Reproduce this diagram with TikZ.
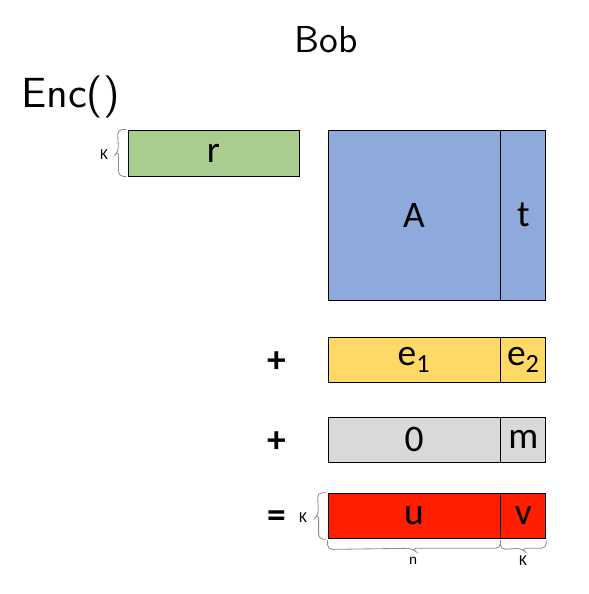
\documentclass[tikz,border=0pt]{standalone}
\usepackage{fontspec}
\setmainfont{Carlito}
\newfontfamily\titlefont{lmsans10-regular.otf}
\usetikzlibrary{positioning, calc}
\definecolor{rGreen}{HTML}{A9CD8F}
\definecolor{aBlue}{HTML}{8EA9DB}
\definecolor{eYellow}{HTML}{FFD966}
\definecolor{zGrey}{HTML}{D9D9D9}
\definecolor{uRed}{HTML}{FF1E00}

\tikzset{
  cell/.style={draw, line width=0.7pt, inner sep=0pt, minimum height=1.37cm,
    font=\fontsize{32}{32}\selectfont},
  widecell/.style={cell, minimum width=5.16cm},
  thincell/.style={cell, minimum width=1.35cm},
  curl/.style={draw=black!45, line width=0.7pt, rounded corners=4pt},
  small/.style={font=\fontsize{13}{13}\selectfont, inner sep=0pt},
  sign/.style={font=\bfseries\fontsize{32}{32}\selectfont}
}

\begin{document}
\begin{tikzpicture}[x=0.03cm, y=-0.03cm]
    \useasboundingbox (0,0) rectangle (588,594);
    % titles
    \node[font=\titlefont\fontsize{32}{32}\selectfont] (bob) at (326,40) {Bob};
    \node[font=\titlefont\fontsize{36}{36}\selectfont, anchor=west, inner sep=0pt] (enc) at (21,97) {Enc()};
    % r vector
    \node[widecell, fill=rGreen, minimum width=5.13cm, minimum height=1.38cm] (r) at (213.5,153) {r};
    \draw[curl] ([xshift=-1pt]r.north west) -- ++(-9,0) -- ($(r.west)+(-9,-1.5)$)
      [sharp corners] -- ++(-1.5,1.5) -- ++(1.5,1.5) [rounded corners=4pt]
      -- ($(r.south west)+(-9,0)$) -- ([xshift=-1pt]r.south west);
    \node[small] (rk) at (104,155) {K};
    % public key
    \node[widecell, fill=aBlue, minimum height=5.1cm] (A) at (414,215) {A};
    \node[thincell, fill=aBlue, minimum height=5.1cm, right=0pt of A] (t) {t};
    % error
    \node[widecell, fill=eYellow, minimum height=1.35cm] (e1) at (414,359.5) {e\textsubscript{1}};
    \node[thincell, fill=eYellow, minimum height=1.35cm, right=0pt of e1] (e2) {e\textsubscript{2}};
    % message
    \node[widecell, fill=zGrey, minimum height=1.35cm] (zero) at (414,439.5) {0};
    \node[thincell, fill=zGrey, minimum height=1.35cm, right=0pt of zero] (m) {m};
    % ciphertext
    \node[widecell, fill=uRed] (u) at (414,516) {u};
    \node[thincell, fill=uRed, right=0pt of u] (v) {v};
    \draw[curl] ([xshift=-1pt]u.north west) -- ++(-9,0) -- ($(u.west)+(-9,-1.5)$)
      [sharp corners] -- ++(-1.5,1.5) -- ++(1.5,1.5) [rounded corners=4pt]
      -- ($(u.south west)+(-9,0)$) -- ([xshift=-1pt]u.south west);
    \node[small] (uk) at (303,518) {K};
    \draw[curl] ([yshift=-1pt]u.south west) -- ++(0,9) -- ($(u.south)+(-1.5,9)$)
      [sharp corners] -- ++(1.5,1.5) -- ++(1.5,-1.5) [rounded corners=4pt]
      -- ($(u.south east)+(0,9)$) -- ([yshift=-1pt]u.south east);
    \node[small] (un) at (413,561) {n};
    \draw[curl] ([yshift=-1pt]v.south west) -- ++(0,9) -- ($(v.south)+(-1.5,9)$)
      [sharp corners] -- ++(1.5,1.5) -- ++(1.5,-1.5) [rounded corners=4pt]
      -- ($(v.south east)+(0,9)$) -- ([yshift=-1pt]v.south east);
    \node[small] (vk) at (523,561) {K};
    % signs
    \node[sign] (plus1) at (277,362) {+};
    \node[sign] (plus2) at (277,442) {+};
    \node[sign] (eq) at (277,519) {=};
\end{tikzpicture}
\end{document}
